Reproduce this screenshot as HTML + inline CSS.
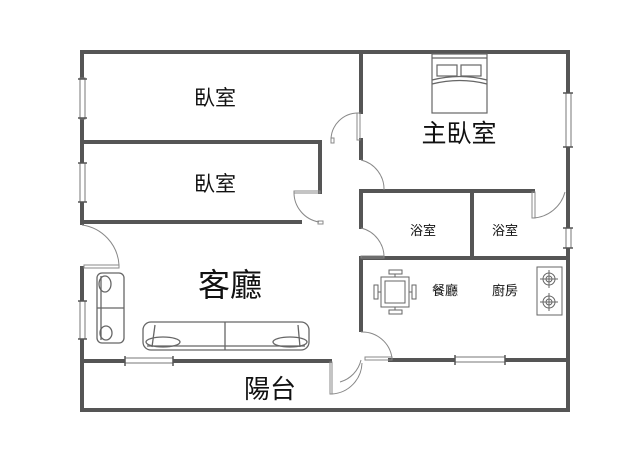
<!DOCTYPE html>
<html><head><meta charset="utf-8"><style>
html,body{margin:0;padding:0;background:#fff;width:640px;height:461px;overflow:hidden}
text{font-family:"Liberation Sans","Noto Sans CJK TC",sans-serif;fill:#111;text-anchor:middle}
</style></head><body>
<svg width="640" height="461" viewBox="0 0 640 461" xmlns="http://www.w3.org/2000/svg">
<g stroke="#555" stroke-width="4" fill="none" stroke-linecap="square">
<!-- outer -->
<line x1="82" y1="52" x2="568" y2="52"/>
<line x1="82" y1="52" x2="82" y2="223"/>
<line x1="82" y1="268" x2="82" y2="410"/>
<line x1="82" y1="410" x2="568" y2="410"/>
<line x1="568" y1="52" x2="568" y2="410"/>
<!-- bedrooms -->
<line x1="82" y1="142" x2="320" y2="142"/>
<line x1="320" y1="142" x2="320" y2="192"/>
<line x1="82" y1="222" x2="300" y2="222"/>
<line x1="361" y1="52" x2="361" y2="112"/>
<line x1="361" y1="140" x2="361" y2="158"/>
<!-- main bedroom bottom -->
<line x1="361" y1="191" x2="533" y2="191"/>
<line x1="361" y1="191" x2="361" y2="227"/>
<line x1="472" y1="191" x2="472" y2="258"/>
<line x1="361" y1="258" x2="568" y2="258"/>
<line x1="361" y1="258" x2="361" y2="330"/>
<line x1="390" y1="360" x2="568" y2="360"/>
<line x1="82" y1="361" x2="330" y2="361"/>
</g>
<!-- windows -->
<g fill="#fff" stroke="#777" stroke-width="1">
<rect x="80" y="78" width="5" height="41"/><rect x="82" y="80" width="2" height="37" stroke="none"/>
<rect x="80" y="163" width="5" height="39"/>
<rect x="80" y="301" width="5" height="38"/>
<rect x="566" y="93" width="5" height="54"/>
<rect x="566" y="228" width="5" height="20"/>
<rect x="125" y="358" width="48" height="5"/>
<rect x="455" y="357" width="50" height="5"/>
</g>
<g stroke="#555" stroke-width="1.5">
<line x1="78" y1="79" x2="87" y2="79"/><line x1="78" y1="118" x2="87" y2="118"/>
<line x1="78" y1="163" x2="87" y2="163"/><line x1="78" y1="202" x2="87" y2="202"/>
<line x1="78" y1="301" x2="87" y2="301"/><line x1="78" y1="339" x2="87" y2="339"/>
<line x1="563" y1="93" x2="573" y2="93"/><line x1="563" y1="147" x2="573" y2="147"/>
<line x1="563" y1="228" x2="573" y2="228"/><line x1="563" y1="248" x2="573" y2="248"/>
<line x1="125" y1="356" x2="125" y2="366"/><line x1="173" y1="356" x2="173" y2="366"/>
<line x1="455" y1="355" x2="455" y2="365"/><line x1="505" y1="355" x2="505" y2="365"/>
</g>
<!-- doors -->
<g fill="none" stroke="#888" stroke-width="1">
<path d="M358 113 A27 27 0 0 0 331 140"/><rect x="357" y="113" width="3" height="27"/><rect x="331" y="138" width="3" height="5"/>
<path d="M361 160 A30 30 0 0 1 384 190"/>
<path d="M294 192 A30 30 0 0 0 319 222"/><rect x="294" y="191" width="26" height="2"/><rect x="318" y="221" width="5" height="3"/>
<path d="M82 225 A43 43 0 0 1 119 265"/><rect x="84" y="265" width="35" height="3"/>
<path d="M533 218 A35 35 0 0 0 565 192"/><rect x="532" y="192" width="3" height="26"/>
<path d="M361 228 A30 30 0 0 1 384 258"/><rect x="361" y="256" width="23" height="2"/>
<path d="M361 332 A30 30 0 0 1 392 358"/><rect x="365" y="357" width="27" height="3"/>
<path d="M332 394 A32 32 0 0 0 362 363"/><rect x="330" y="362" width="2" height="32"/>
<path d="M361 360 A30 30 0 0 1 340 382"/>
</g>
<!-- bed -->
<g fill="none" stroke="#666" stroke-width="1.2">
<rect x="432" y="54" width="55" height="59"/>
<line x1="432" y1="58" x2="487" y2="58"/>
<rect x="437" y="65" width="20" height="11"/><rect x="461" y="65" width="20" height="11"/>
<path d="M432 80 Q460 73 487 80"/><path d="M432 84 Q460 77 487 84"/>
</g>
<!-- table -->
<g fill="none" stroke="#666" stroke-width="1">
<rect x="381" y="277" width="28" height="30"/><rect x="385" y="281" width="20" height="22"/>
<rect x="389" y="270" width="13" height="4"/><line x1="395" y1="274" x2="395" y2="277"/>
<rect x="389" y="310" width="13" height="4"/><line x1="395" y1="307" x2="395" y2="310"/>
<rect x="374" y="285" width="4" height="14"/><rect x="412" y="285" width="4" height="14"/>
<line x1="378" y1="292" x2="381" y2="292"/><line x1="409" y1="292" x2="412" y2="292"/>
<!-- stove -->
<rect x="537" y="267" width="25" height="48"/>
<circle cx="549" cy="279" r="6"/><circle cx="549" cy="279" r="3"/>
<circle cx="549" cy="302" r="6"/><circle cx="549" cy="302" r="3"/>
<line x1="540" y1="279" x2="558" y2="279"/><line x1="549" y1="270" x2="549" y2="288"/>
<line x1="540" y1="302" x2="558" y2="302"/><line x1="549" y1="293" x2="549" y2="311"/>
</g>
<!-- sofas -->
<g fill="none" stroke="#666" stroke-width="1.3">
<rect x="97" y="273" width="27" height="70" rx="5"/>
<line x1="97" y1="308" x2="124" y2="308"/><line x1="101" y1="276" x2="101" y2="340"/>
<ellipse cx="105" cy="284" rx="6" ry="8"/><ellipse cx="106" cy="333" rx="6" ry="7"/>
<rect x="143" y="322" width="166" height="28" rx="8"/>
<line x1="225" y1="322" x2="225" y2="350"/><line x1="147" y1="346" x2="305" y2="346"/>
<ellipse cx="163" cy="342" rx="17" ry="5"/><ellipse cx="290" cy="342" rx="17" ry="5"/>
<line x1="155" y1="325" x2="152" y2="347"/><line x1="298" y1="325" x2="300" y2="347"/>
</g>
<!-- labels -->
<text x="215" y="105" font-size="21">臥室</text>
<text x="215" y="191" font-size="21">臥室</text>
<text x="459" y="142" font-size="25">主臥室</text>
<text x="423" y="235" font-size="13">浴室</text>
<text x="505" y="235" font-size="13">浴室</text>
<text x="230" y="296" font-size="32">客廳</text>
<text x="445" y="295" font-size="13">餐廳</text>
<text x="505" y="295" font-size="13">廚房</text>
<text x="270" y="398" font-size="26">陽台</text>
</svg>
</body></html>
